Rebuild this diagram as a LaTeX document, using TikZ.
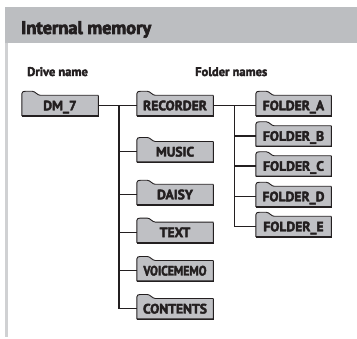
\documentclass[tikz,border=0pt]{standalone}
\usepackage{fontspec}
\setmainfont{PT Sans}
\newfontfamily\heavy{PT Sans}[BoldFeatures={FakeBold=3}]
\newfontfamily\heavytitle{PT Sans}[BoldFeatures={FakeBold=3.5}]
\usetikzlibrary{backgrounds}
\definecolor{headgray}{RGB}{188,190,193}
\definecolor{boxfill}{RGB}{191,192,196}
\definecolor{ink}{RGB}{35,31,32}
\definecolor{framegray}{RGB}{208,209,211}
\begin{document}
\begin{tikzpicture}[x=1pt,y=1pt,
 folder/.style={minimum width=76pt, minimum height=20pt, inner sep=0pt,
   text height=9.6pt, text depth=0pt,
   font=\heavy\bfseries\fontsize{13.6}{14}\selectfont, text=ink},
 narrowfolder/.style={folder, minimum width=75pt},
 outline/.style={draw=ink, fill=boxfill, line width=0.9pt, line join=round},
 shade/.style={draw=ink, line width=0.7pt},
 conn/.style={draw=ink, line width=1.4pt},
 heading/.style={font=\heavy\bfseries\fontsize{12.5}{14}\selectfont, text=ink, anchor=base west, inner sep=0pt}]
\useasboundingbox (0,0) rectangle (357,339);

\node[anchor=base west, inner sep=0pt, text=ink, font=\heavytitle\bfseries\fontsize{18.3}{20}\selectfont] (title) at (21,305) {Internal memory};
\node[heading] (drive) at (27,263) {Drive name};
\node[heading] (folders) at (195,263) {Folder names};

\node[folder] (dm) at (60,233.5) {DM\_7};
\node[folder] (rec) at (175,233.5) {RECORDER};
\node[folder] (mus) at (175,187.3) {MUSIC};
\node[folder] (dai) at (175,144.5) {DAISY};
\node[folder] (txt) at (175,106.7) {TEXT};
\node[folder] (voi) at (175,68.3) {\scalebox{0.86}[1]{VOICEMEMO}};
\node[folder] (cont) at (175,30.3) {CONTENTS};
\node[narrowfolder] (fa) at (293.5,233.5) {FOLDER\_A};
\node[narrowfolder] (fb) at (293.5,203) {FOLDER\_B};
\node[narrowfolder] (fc) at (293.5,173) {FOLDER\_C};
\node[narrowfolder] (fd) at (293.5,142.5) {FOLDER\_D};
\node[narrowfolder] (fe) at (293.5,112.5) {FOLDER\_E};

\begin{scope}[on background layer]
 \fill[headgray] (5,296) rectangle (357,332);
 \draw[framegray, line width=2.5pt] (6.5,296) -- (6.5,2);
 \foreach \n in {dm,rec,mus,dai,txt,voi,cont,fa,fb,fc,fd,fe} {
   \draw[outline] (\n.south west) -- (\n.north west) -- ++(0,1.5)
     .. controls +(0,2) and +(-2,0) .. ++(3.5,2.5) -- ++(7,0)
     .. controls +(3,0) and +(-3,0) .. ++(8,-4) -- (\n.north east)
     -- (\n.south east) -- cycle;
   \draw[shade] ([xshift=0.5pt,yshift=-0.5pt]\n.south west) -- ([xshift=0.5pt,yshift=-0.5pt]\n.south east) -- ([xshift=0.5pt,yshift=-0.5pt]\n.north east);
 }
\end{scope}

\coordinate (j1) at (119,233.5);
\coordinate (j2) at (234.5,233.5);
\draw[conn] (dm.east) -- (rec.west);
\draw[conn] (j1) |- (cont.west);
\foreach \n in {mus,dai,txt,voi} \draw[conn] (j1 |- \n.west) -- (\n.west);
\draw[conn] (rec.east) -- (fa.west);
\draw[conn] (j2) |- (fe.west);
\foreach \n in {fb,fc,fd} \draw[conn] (j2 |- \n.west) -- (\n.west);
\end{tikzpicture}
\end{document}
